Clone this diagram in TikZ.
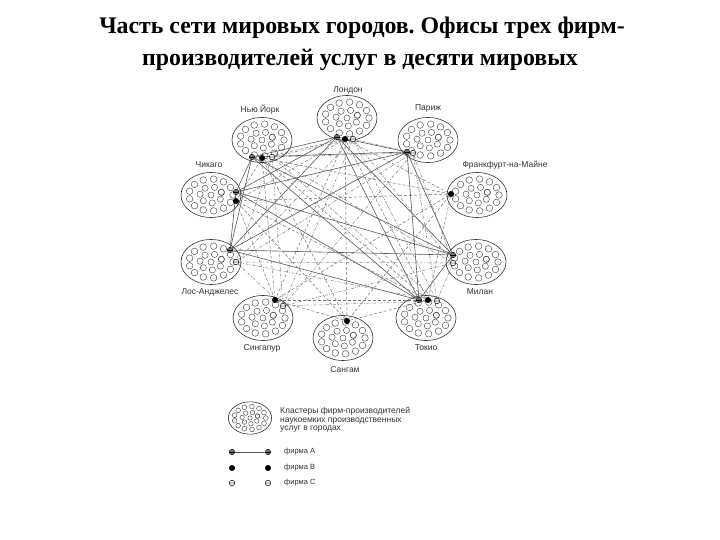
\documentclass[tikz,border=0pt]{standalone}
\usepackage{fontspec}
\setmainfont{Liberation Serif}
\newfontfamily\labelfont{Liberation Sans}
\usetikzlibrary{shapes.geometric,backgrounds}
\frenchspacing

\begin{document}
\begin{tikzpicture}[
    x=1pt, y=-1pt,
    font=\labelfont\fontsize{8.5}{8.5}\selectfont,
    cluster/.style={ellipse, draw=black!80, line width=0.6pt, inner sep=0pt,
        minimum width=#1*60pt, minimum height=#1*45pt,
        path picture={
            \foreach \a in {0,27.7,...,350}
                \draw[black!70, line width=0.45pt] ([shift={(\a:#1*22pt and #1*16pt)}]path picture bounding box.center) circle (#1*3.3pt);
            \foreach \a in {20,71.4,...,380}
                \draw[black!70, line width=0.45pt] ([shift={(\a:#1*11pt and #1*8pt)}]path picture bounding box.center) circle (#1*3.1pt);
            \draw[black!70, line width=0.45pt] (path picture bounding box.center) circle (#1*3pt);
        }},
    cluster/.default=1,
    city/.style={font=\labelfont\fontsize{8.5}{8.5}\selectfont, text=black!80, inner sep=1pt},
    firmA/.style={circle, draw=black, fill=black!55, inner sep=0pt, minimum size=5.5pt,
        path picture={\draw[black, line width=0.6pt] (path picture bounding box.west) -- (path picture bounding box.east);}},
    firmB/.style={circle, draw=black, fill=black, inner sep=0pt, minimum size=5.5pt},
    firmC/.style={circle, draw=black, fill=white, line width=0.5pt, inner sep=0pt, minimum size=5.5pt,
        path picture={\fill[black] ([xshift=-1pt]path picture bounding box.center) circle (0.7pt);
                      \fill[black] ([xshift=1pt]path picture bounding box.center) circle (0.7pt);}},
    linkA/.style={black!65, line width=0.6pt},
    linkB/.style={black!55, line width=0.5pt, dash pattern=on 3pt off 2pt},
    linkC/.style={black!50, line width=0.5pt, dash pattern=on 3pt off 1.5pt on 0.7pt off 1.5pt},
]
    \useasboundingbox (0,0) rectangle (720,540);

    % Title
    \node[font=\bfseries\fontsize{23.8}{26}\selectfont, inner sep=0pt] (title1) at (362,28) {Часть сети мировых городов. Офисы трех фирм-};
    \node[font=\bfseries\fontsize{23.8}{26}\selectfont, inner sep=0pt] (title2) at (360,60) {производителей услуг в десяти мировых};

    % City clusters
    \node[cluster] (lon) at (347,118) {};
    \node[cluster] (ny)  at (262,140) {};
    \node[cluster] (par) at (428,140) {};
    \node[cluster] (chi) at (211,195) {};
    \node[cluster] (fra) at (477,195) {};
    \node[cluster] (la)  at (211,262) {};
    \node[cluster] (mil) at (476,262) {};
    \node[cluster] (sin) at (263,318) {};
    \node[cluster] (tok) at (426,318) {};
    \node[cluster] (sha) at (343,338) {};

    % City names
    \node[city] (lonname) at (348,90)  {Лондон};
    \node[city] (nyname)  at (260,110) {Нью Йорк};
    \node[city] (parname) at (428,108) {Париж};
    \node[city] (chiname) at (209,165) {Чикаго};
    \node[city] (franame) at (505,165) {Франкфурт-на-Майне};
    \node[city] (laname)  at (210,292) {Лос-Анджелес};
    \node[city] (milname) at (480,292) {Милан};
    \node[city] (sinname) at (262,348) {Сингапур};
    \node[city] (tokname) at (426,348) {Токио};
    \node[city] (shaname) at (345,370) {Сангам};

    % Firm offices
    \node[firmA] (lonA) at (337,137) {};
    \node[firmB] (lonB) at (345,139) {};
    \node[firmC] (lonC) at (353,139) {};
    \node[firmA] (nyA)  at (252,157) {};
    \node[firmB] (nyB)  at (262,158) {};
    \node[firmC] (nyC)  at (272,157) {};
    \node[firmA] (chiA) at (236,192) {};
    \node[firmB] (chiB) at (236,201) {};
    \node[firmA] (parA) at (407,152) {};
    \node[firmC] (parC) at (413,153) {};
    \node[firmB] (fraB) at (451,194) {};
    \node[firmA] (laA)  at (230,250) {};
    \node[firmC] (laC)  at (236,262) {};
    \node[firmA] (milA) at (453,255) {};
    \node[firmC] (milC) at (453,263) {};
    \node[firmB] (sinB) at (275,300) {};
    \node[firmC] (sinC) at (283,306) {};
    \node[firmB] (shaB) at (347,321) {};
    \node[firmA] (tokA) at (419,300) {};
    \node[firmB] (tokB) at (428,300) {};
    \node[firmC] (tokC) at (437,301) {};

    % Links of the three firms
    \begin{pgfonlayer}{background}
    \fill[white] (0,0) rectangle (720,540);
    \foreach \u/\v in {lonA/nyA, lonA/chiA, lonA/parA, lonA/laA, lonA/milA, lonA/tokA,
                       nyA/chiA, nyA/parA, nyA/laA, nyA/milA, nyA/tokA,
                       chiA/parA, chiA/laA, chiA/milA, chiA/tokA,
                       parA/laA, parA/milA, parA/tokA, laA/milA, laA/tokA, milA/tokA}
        \draw[linkA] (\u) -- (\v);
    \foreach \u/\v in {lonB/nyB, lonB/chiB, lonB/fraB, lonB/sinB, lonB/shaB, lonB/tokB,
                       nyB/chiB, nyB/fraB, nyB/sinB, nyB/shaB, nyB/tokB,
                       chiB/fraB, chiB/sinB, chiB/shaB, chiB/tokB,
                       fraB/sinB, fraB/shaB, fraB/tokB, sinB/shaB, sinB/tokB, shaB/tokB}
        \draw[linkB] (\u) -- (\v);
    \foreach \u/\v in {lonC/nyC, lonC/parC, lonC/laC, lonC/sinC, lonC/milC, lonC/tokC,
                       nyC/parC, nyC/laC, nyC/sinC, nyC/milC, nyC/tokC,
                       parC/laC, parC/sinC, parC/milC, parC/tokC,
                       laC/sinC, laC/milC, laC/tokC, sinC/milC, sinC/tokC, milC/tokC}
        \draw[linkC] (\u) -- (\v);
    \end{pgfonlayer}

    % Legend
    \node[cluster=0.72] (key) at (250,418) {};
    \node[city, anchor=west, align=left] (keytext) at (279,420) {Кластеры фирм-производителей\\наукоемких производственных\\услуг в городах};
    \node[firmA] (keyA1) at (232,452) {};
    \node[firmA] (keyA2) at (268,452) {};
    \draw[linkA] (keyA1) -- (keyA2);
    \node[firmB] (keyB1) at (232,468) {};
    \node[firmB] (keyB2) at (268,468) {};
    \node[firmC] (keyC1) at (232,483) {};
    \node[firmC] (keyC2) at (268,483) {};
    \node[city, anchor=west, font=\labelfont\fontsize{7.5}{8}\selectfont] (keyAtext) at (283,452) {фирма А};
    \node[city, anchor=west, font=\labelfont\fontsize{7.5}{8}\selectfont] (keyBtext) at (283,468) {фирма В};
    \node[city, anchor=west, font=\labelfont\fontsize{7.5}{8}\selectfont] (keyCtext) at (283,483) {фирма С};

\end{tikzpicture}
\end{document}
